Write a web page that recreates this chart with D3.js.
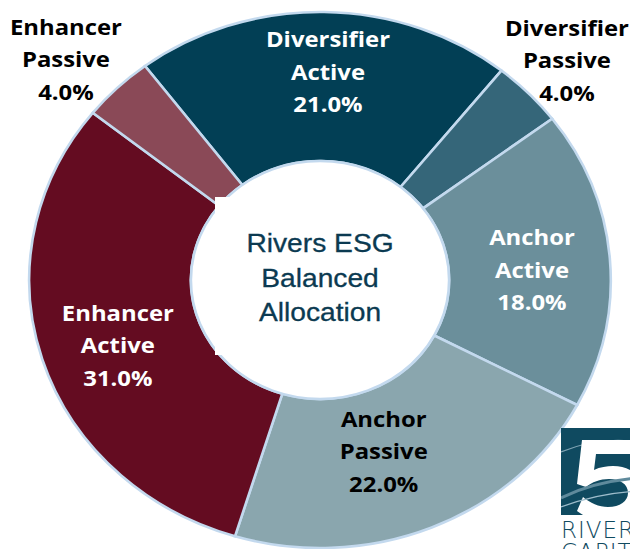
<!DOCTYPE html>
<html>
<head>
<meta charset="utf-8">
<script src="https://cdn.jsdelivr.net/npm/d3@7"></script>
<style>
  body { margin: 0; background: #fff; }
  svg { display: block; }
</style>
</head>
<body>
<svg id="chart" width="630" height="549"></svg>
<script>
/*
** Data
*/
var categories = ["Diversifier Active", "Diversifier Passive", "Anchor Active",
                  "Anchor Passive", "Enhancer Active", "Enhancer Passive"];
var weights = [21, 4, 18, 22, 31, 4];
var sliceColors = ["#023f55", "#356679", "#6b8f9b", "#8aa6ae", "#640c21", "#8a4957"];
var labelInks = ["#fff", "#000", "#fff", "#000", "#fff", "#000"];
var outsideLabel = [false, true, false, false, false, true];
var centerLines = ["Rivers ESG", "Balanced", "Allocation"];

/*
** Layout
*/
var svg = d3.select("#chart")
  , cx = 320, cy = 280
  , stretch = 1.085          // the original picture is a bit wider than tall
  , rOuter = 268, rInner = 119
  , startDeg = -37
  , edge = "#c3d9ee"
  , lineGap = 32.5
  // nudges (screen px) from the slice centroid to the label middle line
  , nudge = {
        "Diversifier Active": [5, -12]
      , "Diversifier Passive": [-2, 4]
      , "Anchor Active": [0, 6]
      , "Anchor Passive": [-18, -9]
      , "Enhancer Active": [1, 8]
      , "Enhancer Passive": [-12, 9]
    }
  , fmt = d3.format(".1f")
;

var slices = categories.map(function(c, i) {
    return { name: c, value: weights[i], color: sliceColors[i],
             ink: labelInks[i], outside: outsideLabel[i] };
});

var pie = d3.pie()
    .sort(null)
    .value(function(d) { return d.value; })
    .startAngle(startDeg * Math.PI / 180)
    .endAngle(startDeg * Math.PI / 180 + 2 * Math.PI)
;
var arc = d3.arc().innerRadius(rInner).outerRadius(rOuter);
var arcs = pie(slices);

var g = svg.append("g")
    .attr("transform", "translate(" + cx + "," + cy + ") scale(" + stretch + ",1)")
;

// donut slices
g.selectAll("path.slice")
    .data(arcs)
  .enter().append("path")
    .attr("class", "slice")
    .attr("d", arc)
    .attr("fill", function(d) { return d.data.color; })
    .attr("stroke", edge)
    .attr("stroke-width", 2.6)
    .attr("vector-effect", "non-scaling-stroke")
;

// hole
g.append("ellipse")
    .attr("rx", rInner).attr("ry", rInner)
    .attr("fill", "#fff")
    .attr("stroke", edge)
    .attr("stroke-width", 2.6)
    .attr("vector-effect", "non-scaling-stroke")
;

// text box background poking out of the hole
svg.append("rect")
    .attr("x", 215).attr("y", 197)
    .attr("width", 190).attr("height", 158)
    .attr("fill", "#fff")
;

/*
** Center title
*/
var tg = svg.append("g")
    .attr("transform", "translate(" + cx + ",0) scale(" + stretch + ",1)");
tg.selectAll("text.center")
    .data(centerLines)
  .enter().append("text")
    .attr("class", "center")
    .attr("x", 0)
    .attr("y", function(d, i) { return 287 + (i - 1) * 34.5; })
    .attr("text-anchor", "middle")
    .attr("font-family", "'Liberation Sans', Arial, sans-serif")
    .attr("font-size", 26)
    .attr("fill", "#0b3a51")
    .attr("stroke", "#0b3a51")
    .attr("stroke-width", 0.3)
    .text(function(d) { return d; })
;

/*
** Slice labels
*/
var labelArcIn = d3.arc().innerRadius(196).outerRadius(196);
var labelArcOut = d3.arc().innerRadius(320).outerRadius(320);

arcs.forEach(function(d) {
    var c = (d.data.outside ? labelArcOut : labelArcIn).centroid(d)
      , n = nudge[d.data.name]
      , x = cx + c[0] * stretch + n[0]
      , y = cy + c[1] + n[1]
      , words = d.data.name.split(" ")
      , lines = [words[0], words[1], fmt(d.data.value) + "%"]
    ;
    var lg = svg.append("g")
        .attr("transform", "translate(" + x + "," + y + ") scale(" + stretch + ",1)");
    lg.selectAll("text")
        .data(lines)
      .enter().append("text")
        .attr("x", 0)
        .attr("y", function(t, i) { return (i - 1) * lineGap + 7.5; })
        .attr("text-anchor", "middle")
        .attr("font-family", "'Open Sans', sans-serif")
        .attr("font-weight", 700)
        .attr("font-size", 22)
        .attr("fill", d.data.ink)
        .text(function(t) { return t; })
    ;
});

/*
** Logo corner (5 Rivers Capital), cut by the picture edge as in the original
*/
var logo = svg.append("g");
logo.append("clipPath").attr("id", "logoClip")
  .append("rect").attr("x", 561).attr("y", 428).attr("width", 70).attr("height", 87);
logo.append("rect")
    .attr("x", 561).attr("y", 428).attr("width", 70).attr("height", 87)
    .attr("fill", "#0f4a60");
var lc = logo.append("g").attr("clip-path", "url(#logoClip)");
lc.append("path")
    .attr("d", "M561,452 C590,440 615,438 640,442")
    .attr("fill", "none").attr("stroke", "#7fa3b3").attr("stroke-width", 1.2);
// the big "5" drawn as a shape
lc.append("path")
    .attr("d", "M582,440 H634 V454 H596 L594,470 C600,467 607,466 613,466"
             + " C632,466 644,478 644,494 C644,512 630,522 610,522"
             + " C598,522 586,518 577,511 L583,497 C590,503 599,507 608,507"
             + " C620,507 628,501 628,493 C628,484 620,479 609,479"
             + " C600,479 592,482 586,487 L577,484 Z")
    .attr("fill", "#fff");
lc.append("path")
    .attr("d", "M561,498 C585,486 610,480 640,478")
    .attr("fill", "none").attr("stroke", "#5f8a9c").attr("stroke-width", 3);
lc.append("path")
    .attr("d", "M561,507 C590,496 615,492 640,491")
    .attr("fill", "none").attr("stroke", "#9dbccb").attr("stroke-width", 1.2);
logo.append("text")
    .attr("x", 561).attr("y", 538)
    .attr("font-family", "'DejaVu Sans', sans-serif")
    .attr("font-weight", 200)
    .attr("font-size", 23)
    .attr("letter-spacing", 1)
    .attr("fill", "#0f4a60")
    .text("RIVERS");
logo.append("text")
    .attr("x", 561).attr("y", 560)
    .attr("font-family", "'DejaVu Sans', sans-serif")
    .attr("font-weight", 200)
    .attr("font-size", 23)
    .attr("letter-spacing", 1)
    .attr("fill", "#0f4a60")
    .text("CAPITAL");
</script>
</body>
</html>
